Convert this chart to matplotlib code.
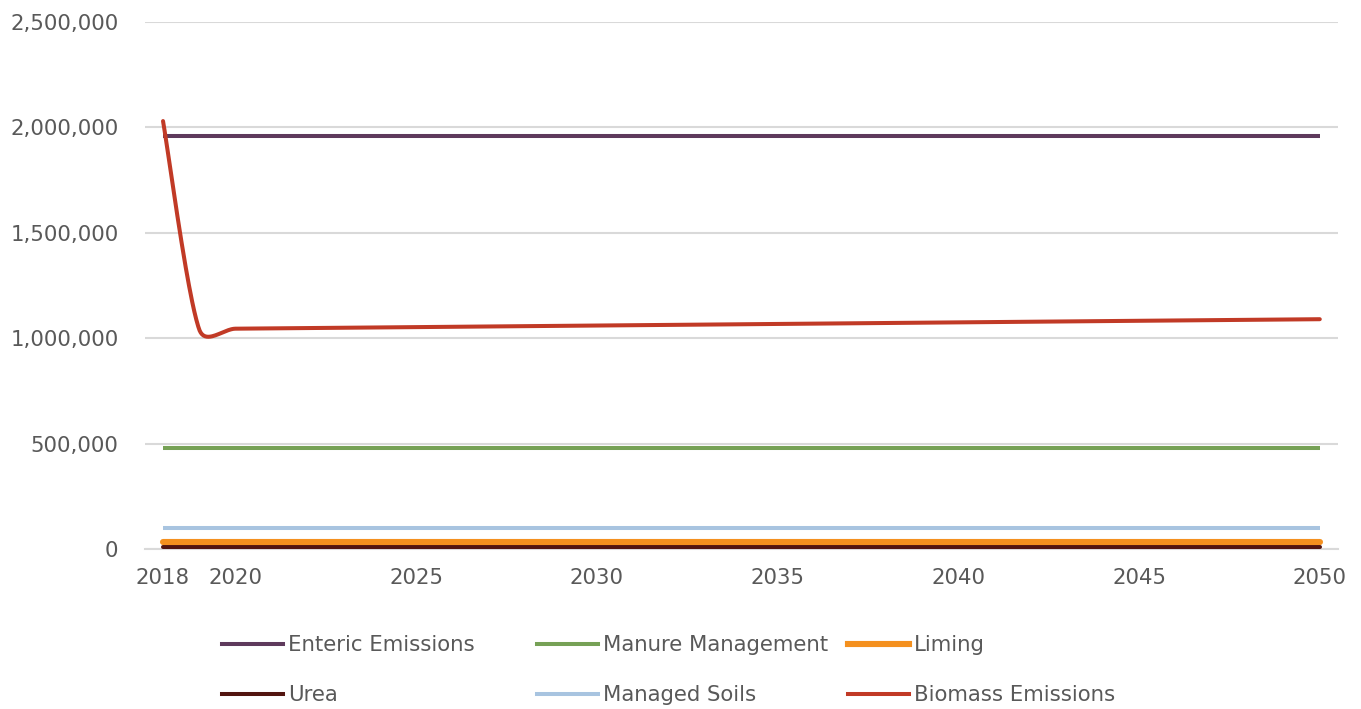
import numpy as np
import matplotlib.pyplot as plt
from matplotlib.lines import Line2D
from matplotlib.ticker import FuncFormatter

plt.rcParams['font.family'] = ['DejaVu Sans']

years = list(range(2018, 2051))

enteric = [1960000] * len(years)
manure = [480000] * len(years)
liming = [31000] * len(years)
urea = [9000] * len(years)
managed_soils = [100000] * len(years)
biomass = [2030000, 1042000, 1045000, 1046500, 1048000, 1049500, 1051000, 1052500,
           1054000, 1055500, 1057000, 1058500, 1060000, 1061500, 1063000, 1064500,
           1066000, 1067500, 1069000, 1070500, 1072000, 1073500, 1075000, 1076500,
           1078000, 1079500, 1081000, 1082500, 1084000, 1085500, 1087000, 1088500,
           1090000]

x_ticks = [2018, 2020, 2025, 2030, 2035, 2040, 2045, 2050]

ENTERIC_C = '#5e3a5c'
MANURE_C = '#76a156'
LIMING_C = '#f4901e'
UREA_C = '#521510'
SOILS_C = '#a8c4e0'
BIOMASS_C = '#c13a26'

XLIM = (2017.5, 2050.5)
YLIM = (0, 2500000)
AX_RECT = [0.1065, 0.2257, 0.8765, 0.7433]
FIG_W, FIG_H = 13.61, 7.09


def smooth(xs, ys, sx, sy, n=40):
    # smoothed line like a spreadsheet chart: Catmull-Rom style Bezier, with each
    # control arm capped at half of its segment (lengths measured on screen)
    pts = np.column_stack([np.asarray(xs, float) * sx, np.asarray(ys, float) * sy])
    m = len(pts)
    t = np.linspace(0, 1, n)[:, None]
    out = []
    for i in range(m - 1):
        p0 = pts[i - 1] if i > 0 else pts[i]
        p1 = pts[i]
        p2 = pts[i + 1]
        p3 = pts[i + 2] if i + 2 < m else pts[i + 1]
        d12 = np.hypot(*(p2 - p1))
        d02 = np.hypot(*(p2 - p0))
        d13 = np.hypot(*(p3 - p1))
        f1 = 1 / 6 if d02 / 6 < d12 / 2 else d12 / (2 * d02)
        f2 = 1 / 6 if d13 / 6 < d12 / 2 else d12 / (2 * d13)
        c1 = p1 + (p2 - p0) * f1
        c2 = p2 - (p3 - p1) * f2
        seg = ((1 - t) ** 3) * p1 + 3 * ((1 - t) ** 2) * t * c1 + 3 * (1 - t) * t ** 2 * c2 + t ** 3 * p2
        out.append(seg if i == 0 else seg[1:])
    out = np.vstack(out)
    return out[:, 0] / sx, out[:, 1] / sy


fig = plt.figure(figsize=(FIG_W, FIG_H), dpi=100)
ax = fig.add_axes(AX_RECT)

# pixels per data unit, for the smoothing
px_x = AX_RECT[2] * FIG_W * 100 / (XLIM[1] - XLIM[0])
px_y = AX_RECT[3] * FIG_H * 100 / (YLIM[1] - YLIM[0])

ax.plot(years, enteric, color=ENTERIC_C, lw=2.9, solid_capstyle='butt', zorder=3)
ax.plot(years, manure, color=MANURE_C, lw=2.9, solid_capstyle='butt', zorder=3)
ax.plot(years, managed_soils, color=SOILS_C, lw=2.9, solid_capstyle='butt', zorder=3)
ax.plot(years, urea, color=UREA_C, lw=2.9, solid_capstyle='round', zorder=3)
ax.plot(years, liming, color=LIMING_C, lw=4.4, solid_capstyle='round', zorder=3)
bx, by = smooth(years, biomass, px_x, px_y)
ax.plot(bx, by, color=BIOMASS_C, lw=2.9, solid_capstyle='round', zorder=3)

ax.set_xlim(*XLIM)
ax.set_ylim(*YLIM)
ax.set_yticks(np.arange(0, 2500001, 500000))
ax.yaxis.set_major_formatter(FuncFormatter(lambda v, p: '{:,.0f}'.format(v)))
ax.set_xticks(x_ticks)

ax.grid(axis='y', color='#d9d9d9', lw=1.5)
ax.set_axisbelow(True)
for s in ['top', 'right', 'left']:
    ax.spines[s].set_visible(False)
ax.spines['bottom'].set_color('#d9d9d9')
ax.spines['bottom'].set_linewidth(1.5)
ax.spines['bottom'].set_zorder(1)
ax.tick_params(axis='both', length=0, labelsize=15.3, colors='#595959')
ax.tick_params(axis='x', pad=14)
ax.tick_params(axis='y', pad=19)

# legend laid out in three fixed-width columns
columns = [
    [('Enteric Emissions', ENTERIC_C, 2.9), ('Urea', UREA_C, 2.9)],
    [('Manure Management', MANURE_C, 2.9), ('Managed Soils', SOILS_C, 2.9)],
    [('Liming', LIMING_C, 4.4), ('Biomass Emissions', BIOMASS_C, 2.9)],
]
col_x = [222, 537, 848]
for cx, entries in zip(col_x, columns):
    handles = [Line2D([], [], color=c, lw=w) for _, c, w in entries]
    labels = [l for l, _, _ in entries]
    fig.legend(handles, labels, loc='upper left',
               bbox_to_anchor=(cx / 1361, 1 - 635 / 709),
               frameon=False, fontsize=15.3, labelcolor='#595959',
               handlelength=2.85, handletextpad=0.25, labelspacing=1.42,
               borderaxespad=0, borderpad=0)

fig.savefig('out.png', dpi=100)
